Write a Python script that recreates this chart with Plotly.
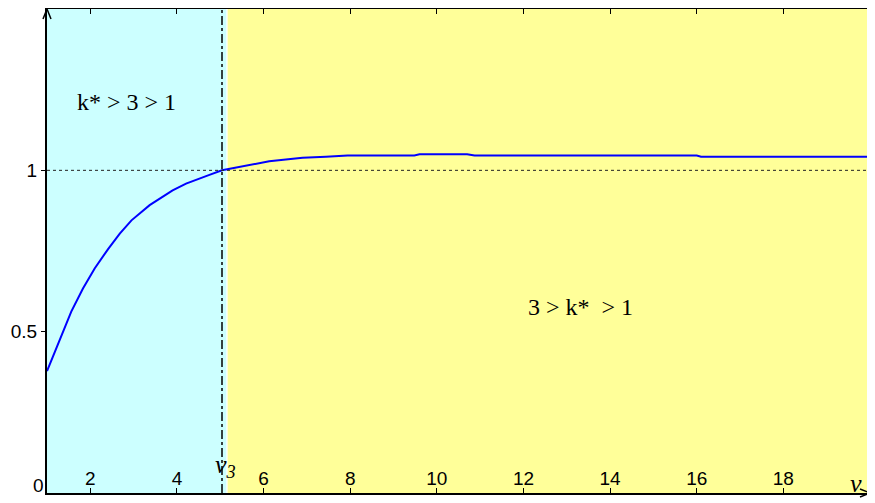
import plotly.graph_objects as go

# ---- data ----
curve_x = [1.0, 1.3, 1.56, 1.83, 2.1, 2.41, 2.68, 2.95, 3.37, 3.9, 4.21, 4.75, 5.04,
           6.13, 6.9, 7.44, 7.94, 9.48, 9.6, 10.7, 10.87, 16.0, 16.1, 20.0]
curve_y = [0.378, 0.479, 0.562, 0.634, 0.696, 0.756, 0.804, 0.845, 0.892, 0.938, 0.959, 0.986, 1.0,
           1.028, 1.039, 1.042, 1.046, 1.046, 1.050, 1.050, 1.046, 1.046, 1.042, 1.042]
v3 = 5.04
region1 = [1.0, 5.14]    # k* > 3 > 1
region2 = [5.17, 20.0]   # 3 > k* > 1
x_range = [1, 20]
y_range = [0, 1.5]
x_ticks = [2, 4, 6, 8, 10, 12, 14, 16, 18]
y_ticks = [0.5, 1]
y_tick_text = ["0.5", "1"]
origin_label = "0"
ref_level = 1.0

fig = go.Figure()
fig.add_trace(go.Scatter(x=curve_x, y=curve_y, mode="lines",
                         line=dict(color="#0000ff", width=2), showlegend=False,
                         hoverinfo="skip"))

shapes = [
    dict(type="rect", xref="x", yref="paper", x0=region1[0], x1=region1[1], y0=0, y1=1,
         fillcolor="#ccffff", line=dict(width=0), layer="below"),
    dict(type="rect", xref="x", yref="paper", x0=region2[0], x1=region2[1], y0=0, y1=1,
         fillcolor="#ffff99", line=dict(width=0), layer="below"),
    dict(type="line", xref="paper", yref="y", x0=0, x1=1, y0=ref_level, y1=ref_level,
         line=dict(color="#222222", width=1, dash="dot"), layer="above"),
    dict(type="line", xref="x", yref="paper", x0=v3, x1=v3, y0=0, y1=1,
         line=dict(color="black", width=1.5, dash="dashdot"), layer="above"),
    # axis arrowheads (open V), sized in pixels
    dict(type="path", xref="paper", yref="paper", xsizemode="pixel", ysizemode="pixel",
         xanchor=0, yanchor=1, path="M-4,-10 L0,0 L4,-10",
         line=dict(color="black", width=1.5), layer="above"),
    dict(type="path", xref="paper", yref="paper", xsizemode="pixel", ysizemode="pixel",
         xanchor=1, yanchor=0, path="M-10,4 L0,0 L-10,-4",
         line=dict(color="black", width=1.5), layer="above"),
]

serif = "Liberation Serif, Times New Roman, serif"
sans = "Liberation Sans, Arial, sans-serif"
annotations = [
    dict(x=2.84, y=1.211, xref="x", yref="y", text="k* > 3 > 1", showarrow=False,
         font=dict(family=serif, size=24, color="black")),
    dict(x=13.31, y=0.577, xref="x", yref="y", text="3 > k*&nbsp; > 1", showarrow=False,
         font=dict(family=serif, size=24, color="black")),
    dict(x=5.13, y=0.085, xref="x", yref="y", text="<i>v<sub>3</sub></i>", showarrow=False,
         font=dict(family=serif, size=26, color="black")),
    dict(x=19.68, y=0.03, xref="x", yref="y", text="<i>v</i>", showarrow=False,
         font=dict(family=serif, size=26, color="black")),
    dict(x=0, y=0, xref="paper", yref="paper", text=origin_label, showarrow=False,
         xanchor="right", yanchor="bottom", xshift=-1, yshift=-5,
         font=dict(family=sans, size=19, color="black")),
]

fig.update_layout(
    width=867, height=496,
    margin=dict(l=39, r=5, t=1, b=11, autoexpand=False),
    paper_bgcolor="white", plot_bgcolor="white",
    shapes=shapes, annotations=annotations,
    xaxis=dict(range=x_range, tickvals=x_ticks, ticks="inside", ticklen=5, tickcolor="black",
               ticklabelposition="inside", showgrid=False, zeroline=False, automargin=False,
               showline=True, linecolor="black", linewidth=2, mirror="ticks",
               tickfont=dict(family=sans, size=19, color="black")),
    yaxis=dict(range=y_range, tickvals=y_ticks, ticktext=y_tick_text, ticks="outside",
               ticklen=4, tickcolor="black", showgrid=False, zeroline=False, automargin=False,
               showline=True, linecolor="black", linewidth=2, mirror=True,
               tickfont=dict(family=sans, size=19, color="black")),
)

fig.write_html("out.html")
